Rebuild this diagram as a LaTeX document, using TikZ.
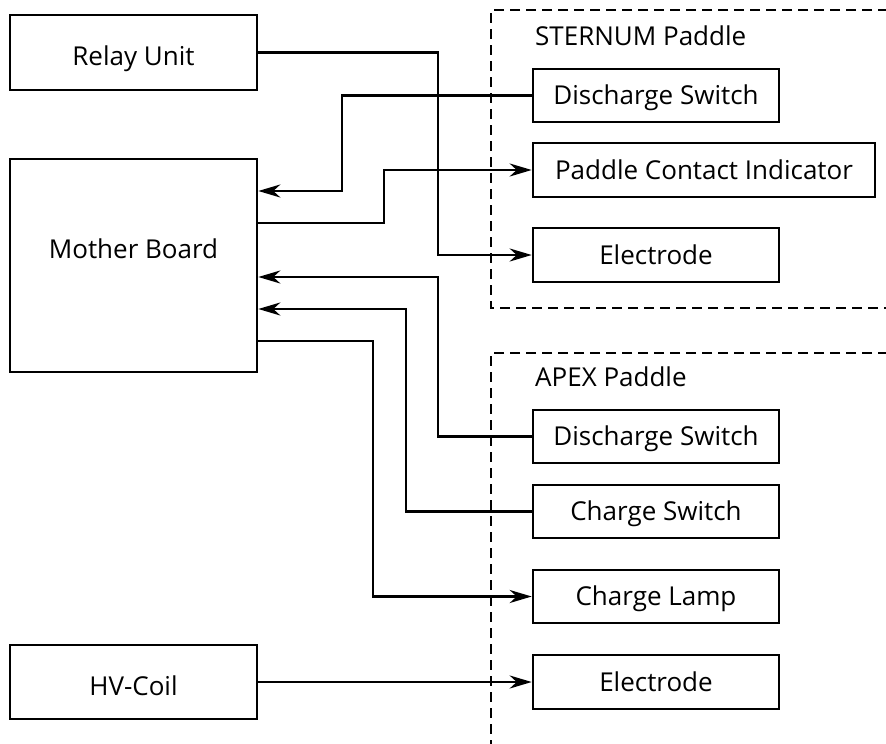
\documentclass[tikz,border=0pt]{standalone}
\usepackage{fontspec}
\setmainfont{Open Sans}
\usetikzlibrary{arrows.meta}
\begin{document}
\begin{tikzpicture}[x=1pt,y=-1pt,
  txt/.style={font=\fontsize{26}{30}\selectfont,text height=18.6pt,text depth=0pt},
  box/.style={draw,line width=2.6pt,rectangle,inner sep=0pt,txt},
  wire/.style={line width=2.6pt},
  arr/.style={wire,-{Stealth[length=22pt,width=13pt,inset=7pt]}},
  group/.style={line width=2.6pt,dash pattern=on 10pt off 6pt},
  lbl/.style={anchor=west,inner sep=0pt,txt}]
\useasboundingbox (0,0) rectangle (886,744);
% dashed groups
\draw[group] (888,10) -- (491,10) -- (491,308) -- (888,308);
\draw[group] (888,353) -- (491,353) -- (491,746);
\node[lbl] (stlbl) at (535,36.5) {STERNUM Paddle};
\node[lbl] (aplbl) at (535,377) {APEX Paddle};
% left boxes
\node[box,minimum width=247,minimum height=75,text height=25.6pt] (relay) at (133.5,52.5) {Relay Unit};
\node[box,minimum width=247,minimum height=213] (mb) at (133.5,265.5) {};
\node[inner sep=0pt,txt] (mbtext) at (133.5,249) {Mother Board};
\node[box,minimum width=247,minimum height=74,text height=26.6pt] (hv) at (133.5,682) {HV-Coil};
% right boxes
\node[box,minimum width=246,minimum height=53] (sds) at (656,95.5) {Discharge Switch};
\node[box,minimum width=342,minimum height=54] (pci) at (704,170) {Paddle Contact Indicator};
\node[box,minimum width=246,minimum height=54] (sel) at (656,255) {Electrode};
\node[box,minimum width=246,minimum height=53] (ads) at (656,436.5) {Discharge Switch};
\node[box,minimum width=246,minimum height=53] (acs) at (656,511.5) {Charge Switch};
\node[box,minimum width=246,minimum height=53] (acl) at (656,596.5) {Charge Lamp};
\node[box,minimum width=246,minimum height=54] (ael) at (656,682) {Electrode};
% helper coordinates
\coordinate (m1) at (mb.east |- 0,191);
\coordinate (m2) at (mb.east |- 0,223);
\coordinate (m3) at (mb.east |- 0,277);
\coordinate (m4) at (mb.east |- 0,309);
\coordinate (m5) at (mb.east |- 0,341);
% connectors
\draw[arr] (relay.east) -| (438,0 |- sel.west) -- (sel.west);
\draw[arr] (sds.west) -| (342,0 |- m1) -- (m1);
\draw[arr] (m2) -| (384,0 |- pci.west) -- (pci.west);
\draw[arr] (ads.west) -| (438,0 |- m3) -- (m3);
\draw[arr] (acs.west) -| (406,0 |- m4) -- (m4);
\draw[arr] (m5) -| (373,0 |- acl.west) -- (acl.west);
\draw[arr] (hv.east) -- (ael.west);
\end{tikzpicture}
\end{document}
